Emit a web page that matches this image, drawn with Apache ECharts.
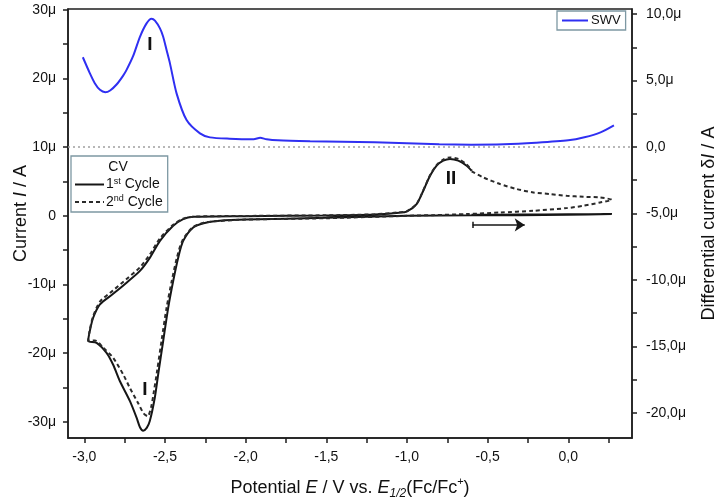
<!DOCTYPE html>
<html><head><meta charset="utf-8">
<script src="https://cdn.jsdelivr.net/npm/echarts@6/dist/echarts.min.js"></script>
<style>html,body{margin:0;padding:0;background:#fff}#c{width:718px;height:504px}</style>
</head><body><div id="c"></div>
<script>
// ---- data (potential in V, currents in µA) ----
const cycle1X = [-0.60,-0.30,0.00,0.27,0.27,0.00,-0.30,-0.60,-1.00,-1.50,-2.00,-2.16,-2.26,-2.325,-2.387,-2.418,-2.449,-2.480,-2.511,-2.542,-2.563,-2.594,-2.613,-2.635,-2.655,-2.676,-2.717,-2.779,-2.821,-2.862,-2.924,-2.976,-2.966,-2.945,-2.903,-2.823,-2.738,-2.655,-2.593,-2.531,-2.449,-2.387,-2.325,-2.00,-1.50,-1.20,-1.05,-1.002,-0.940,-0.899,-0.857,-0.816,-0.775,-0.733,-0.682,-0.630,-0.599];
const cycle1Y = [0.15,0.18,0.22,0.25,0.20,0.15,0.10,0.08,0.00,-0.30,-0.55,-0.73,-1.07,-1.70,-3.65,-6.10,-9.50,-13.40,-18.25,-23.10,-26.50,-29.90,-30.90,-31.30,-30.80,-29.40,-27.00,-24.10,-21.70,-19.96,-18.50,-18.25,-16.80,-14.85,-12.90,-11.40,-9.74,-8.03,-6.09,-3.65,-1.46,-0.48,-0.15,-0.05,0.05,0.20,0.45,0.60,1.71,3.65,5.84,7.30,8.03,8.28,8.03,7.30,6.57];

const cycle2X = [-0.599,-0.527,-0.423,-0.320,-0.217,-0.113,-0.010,0.093,0.197,0.269,0.197,0.093,-0.010,-0.217,-0.423,-0.630,-0.837,-1.00,-1.50,-2.00,-2.16,-2.26,-2.33,-2.39,-2.425,-2.458,-2.49,-2.52,-2.548,-2.568,-2.585,-2.607,-2.632,-2.666,-2.715,-2.759,-2.821,-2.883,-2.934,-2.976,-2.966,-2.945,-2.903,-2.823,-2.738,-2.655,-2.593,-2.531,-2.449,-2.387,-2.325,-2.00,-1.50,-1.20,-1.05,-1.002,-0.940,-0.899,-0.857,-0.816,-0.775,-0.733,-0.682,-0.630,-0.599];
const cycle2Y = [6.47,5.59,4.63,3.90,3.40,3.17,2.92,2.77,2.67,2.34,1.94,1.46,1.12,0.73,0.48,0.25,0.10,0.00,-0.35,-0.55,-0.75,-1.00,-1.70,-3.50,-6.00,-9.50,-13.40,-18.00,-22.50,-25.50,-27.80,-29.20,-28.80,-27.30,-25.20,-23.10,-20.70,-19.20,-18.15,-18.20,-16.60,-14.60,-12.50,-10.90,-9.20,-7.50,-5.60,-3.30,-1.30,-0.40,-0.12,-0.02,0.08,0.22,0.50,0.65,1.75,3.70,5.90,7.40,8.20,8.50,8.30,7.50,6.60];

const swvX = [-3.009,-2.966,-2.935,-2.903,-2.870,-2.840,-2.800,-2.760,-2.738,-2.697,-2.655,-2.614,-2.583,-2.562,-2.531,-2.511,-2.490,-2.469,-2.428,-2.366,-2.283,-2.221,-2.10,-1.95,-1.91,-1.87,-1.80,-1.60,-1.40,-1.20,-1.00,-0.80,-0.60,-0.40,-0.20,0.00,0.10,0.20,0.283];
const swvY = [6.75,5.56,4.80,4.30,4.12,4.25,4.70,5.35,5.80,6.85,8.29,9.30,9.65,9.50,8.92,8.29,7.29,6.29,4.03,2.02,1.02,0.72,0.62,0.58,0.69,0.58,0.50,0.43,0.39,0.35,0.28,0.20,0.17,0.20,0.32,0.50,0.73,1.10,1.63];

const xLabelVals = [-3.0,-2.5,-2.0,-1.5,-1.0,-0.5,0.0];
const xTickVals = [-3.0,-2.75,-2.5,-2.25,-2.0,-1.75,-1.5,-1.25,-1.0,-0.75,-0.5,-0.25,0.0,0.25];
const leftLabelVals = [-30,-20,-10,0,10,20,30];
const leftTickVals = [-30,-25,-20,-15,-10,-5,0,5,10,15,20,25,30];
const rightLabelVals = [-20,-15,-10,-5,0,5,10];
const rightTickVals = [-20,-17.5,-15,-12.5,-10,-7.5,-5,-2.5,0,2.5,5,7.5,10];

// peak annotations
const peakLabelsSWV = [{name:'I', x:-2.593, y:7.7}];
const peakLabelsCV = [{name:'II', x:-0.727, y:5.45},{name:'I', x:-2.624, y:-25.4}];
const arrowX = [-0.593,-0.27];
const arrowY = -1.33;
const arrowBarHalf = 0.45;

// ---- chart ----
const pairs = (xs, ys) => xs.map((x,i)=>[x, ys[i]]);
const FONT = '"Liberation Sans", Arial, Helvetica, sans-serif';
const AX = '#1e1e1e';
const comma = v => v.toFixed(1).replace('.', ',');
const nameRich = {
  i:{fontStyle:'italic', fontSize:18, fontFamily:FONT, color:'#111', lineHeight:24, verticalAlign:'middle'},
  sub:{fontStyle:'italic', fontSize:12, fontFamily:FONT, color:'#111', lineHeight:24, verticalAlign:'bottom'},
  sup:{fontSize:11, fontFamily:FONT, color:'#111', lineHeight:24, verticalAlign:'top'}
};
const nameStyle = {fontSize:18, fontFamily:FONT, color:'#111', lineHeight:24, rich:nameRich};
const lblCommon = {fontSize:14, fontFamily:FONT, color:'#111'};
const annLabel = {show:true, position:'inside', formatter:p=>p.name, fontSize:19, fontWeight:'bold', fontFamily:FONT, color:'#111'};

const chart = echarts.init(document.getElementById('c'), null, {renderer:'canvas'});
chart.setOption({
  animation:false,
  grid:{left:68, right:86, top:9, bottom:66, containLabel:false, outerBoundsMode:'none',
        show:true, borderColor:AX, borderWidth:1.5},
  xAxis:{
    type:'value', min:-3.101, max:0.395,
    axisLine:{onZero:false, lineStyle:{color:AX, width:1.5}},
    axisTick:{customValues:xTickVals, length:5, lineStyle:{color:AX, width:1.5}},
    axisLabel:Object.assign({customValues:xLabelVals, formatter:comma, margin:12}, lblCommon),
    splitLine:{show:false},
    name:'Potential {i|E} / V vs. {i|E}{sub|1/2}(Fc/Fc{sup|+})',
    nameLocation:'middle', nameGap:38, nameMoveOverlap:false, nameTextStyle:nameStyle
  },
  yAxis:[{
    type:'value', position:'left', min:-32.37, max:30.13,
    axisLine:{show:true, onZero:false, lineStyle:{color:AX, width:1.5}},
    axisTick:{show:true, customValues:leftTickVals, length:5, lineStyle:{color:AX, width:1.5}},
    axisLabel:Object.assign({customValues:leftLabelVals, formatter:v=> v===0 ? '0' : v+'μ', margin:12}, lblCommon),
    splitLine:{show:false},
    name:'Current {i|I} / A', nameLocation:'middle', nameRotate:90, nameGap:35, nameMoveOverlap:false,
    nameTextStyle:Object.assign({padding:[0,0,0,20]}, nameStyle)
  },{
    type:'value', position:'right', min:-21.9, max:10.38,
    axisLine:{show:true, onZero:false, lineStyle:{color:AX, width:1.5}},
    axisTick:{show:true, customValues:rightTickVals, length:5, lineStyle:{color:AX, width:1.5}},
    axisLabel:Object.assign({customValues:rightLabelVals, formatter:v=> v===0 ? '0,0' : comma(v)+'μ', margin:14}, lblCommon),
    splitLine:{show:false},
    name:'Differential current δ{i|I} / A', nameLocation:'middle', nameRotate:90, nameGap:65, nameMoveOverlap:false,
    nameTextStyle:nameStyle
  }],
  legend:[{
    data:['1st Cycle','2nd Cycle'], orient:'vertical', left:71, top:156,
    padding:[21,5,3,3], itemGap:3, itemWidth:29, itemHeight:12,
    itemStyle:{opacity:0},
    borderColor:'#7d98a3', borderWidth:1.3, backgroundColor:'#fff',
    formatter:n=> n==='1st Cycle' ? '1{sup|st} Cycle' : '2{sup|nd} Cycle',
    textStyle:{fontSize:14, fontFamily:FONT, color:'#111', padding:[0,0,0,-3],
      rich:{sup:{fontSize:9, fontFamily:FONT, color:'#111', verticalAlign:'top', lineHeight:15}}}
  },{
    data:['SWV'], left:557, top:11, padding:[3,5,3,4], itemWidth:26, itemHeight:12,
    itemStyle:{opacity:0},
    borderColor:'#7d98a3', borderWidth:1.3, backgroundColor:'#fff',
    textStyle:{fontSize:13, fontFamily:FONT, color:'#111', padding:[0,0,0,-2]}
  }],
  graphic:[{type:'text', x:118, y:160, z:100,
    style:{text:'CV', font:'14px "Liberation Sans", Arial, sans-serif', fill:'#111', textAlign:'center', textVerticalAlign:'top'}}],
  series:[{
    name:'SWV', type:'line', yAxisIndex:1, data:pairs(swvX, swvY), symbol:'none', smooth:0.25,
    lineStyle:{color:'#2f2ff2', width:2}, itemStyle:{color:'#2f2ff2'}, z:3,
    markLine:{silent:true, symbol:['none','none'], label:{show:false},
      lineStyle:{color:'#a0a0a0', type:[2,3], width:1.5}, data:[{yAxis:0}]},
    markPoint:{symbol:'circle', symbolSize:1, itemStyle:{color:'rgba(0,0,0,0)'}, label:annLabel,
      data:peakLabelsSWV.map(d=>({name:d.name, coord:[d.x,d.y]}))}
  },{
    name:'1st Cycle', type:'line', yAxisIndex:0, data:pairs(cycle1X, cycle1Y), symbol:'none', smooth:0.25,
    lineStyle:{color:'#161616', width:2}, itemStyle:{color:'#161616'}, z:2,
    markLine:{silent:true, symbol:['none','arrow'], symbolSize:10, label:{show:false},
      lineStyle:{color:'#161616', type:'solid', width:1.5},
      data:[
        [{coord:[arrowX[0],arrowY]},{coord:[arrowX[1],arrowY]}],
        [{coord:[arrowX[0],arrowY+arrowBarHalf], symbol:'none'},{coord:[arrowX[0],arrowY-arrowBarHalf], symbol:'none'}]
      ]},
    markPoint:{symbol:'circle', symbolSize:1, itemStyle:{color:'rgba(0,0,0,0)'}, label:annLabel,
      data:peakLabelsCV.map(d=>({name:d.name, coord:[d.x,d.y]}))}
  },{
    name:'2nd Cycle', type:'line', yAxisIndex:0, data:pairs(cycle2X, cycle2Y), symbol:'none', smooth:0.25,
    lineStyle:{color:'#2a2a2a', width:2, type:[4,3]}, itemStyle:{color:'#2a2a2a'}, z:2
  }]
});
</script></body></html>
